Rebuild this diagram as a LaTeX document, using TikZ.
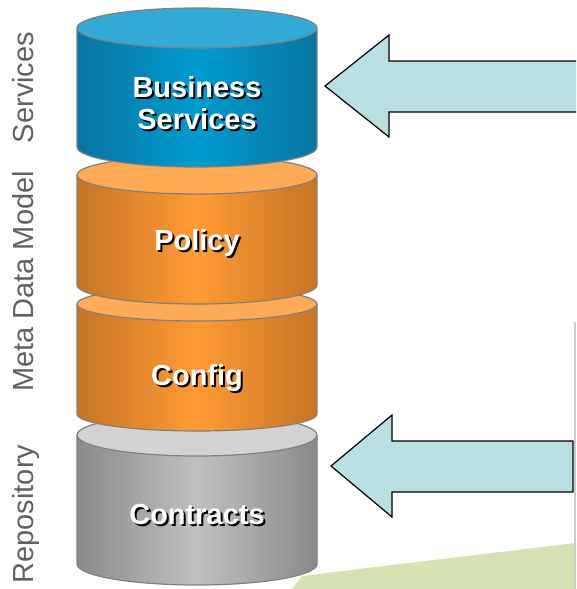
\documentclass[tikz,border=0pt]{standalone}
\usepackage{fontspec}
\setmainfont{Liberation Sans}
\usetikzlibrary{positioning}

\definecolor{bluedark}{RGB}{8,116,160}
\definecolor{bluelight}{RGB}{0,155,207}
\definecolor{bluetop}{RGB}{51,170,213}
\definecolor{orangedark}{RGB}{198,116,38}
\definecolor{orangelight}{RGB}{255,155,51}
\definecolor{orangetop}{RGB}{255,170,85}
\definecolor{graydark}{RGB}{138,138,138}
\definecolor{graylight}{RGB}{192,192,192}
\definecolor{graytop}{RGB}{211,211,211}
\definecolor{arrowfill}{RGB}{184,224,227}
\definecolor{meadow}{RGB}{213,227,178}

\tikzset{
    layer outline/.style = {draw=black!50!white, line width=1.2pt},
    layer text/.style = {
      font=\fontsize{29}{32}\selectfont\bfseries, text=white, align=center,
      inner sep=0,
    },
    layer shadow/.style = {layer text, text=black},
    side label/.style = {
      font=\fontsize{29}{32}\selectfont, text=black!62!white, rotate=90,
      anchor=base, inner sep=0,
    },
    block arrow/.style = {fill=arrowfill, draw=black, line width=1.2pt, line join=miter},
}
\newcommand{\drawlayer}[5]{%
  %% Draw one layer of the stack:
  %% Arguments:
  %%    1. Name prefix
  %%    2. y of the top ellipse
  %%    3. y of the bottom ellipse
  %%    4. Half height of the ellipses
  %%    5. Colour prefix
  \coordinate (#1_top) at (197, -#2);
  \coordinate (#1_bottom) at (197, -#3);
  \shade [left color=#5dark, right color=#5dark, middle color=#5light]
    (77, -#2) -- (77, -#3)
    arc [start angle=180, end angle=360, x radius=120, y radius=#4]
    -- (317, -#2) -- cycle;
  \draw [layer outline]
    (77, -#2) -- (77, -#3)
    arc [start angle=180, end angle=360, x radius=120, y radius=#4]
    -- (317, -#2);
  \filldraw [layer outline, fill=#5top]
    (#1_top) ellipse [x radius=120, y radius=#4];
}
\newcommand{\layertext}[3]{%
  %% Bold white text with a black shadow
  \node [layer shadow] (#1_shadow) at ([xshift=2pt, yshift=-2pt] #2) {#3};
  \node [layer text] (#1) at (#2) {#3};
}
\newcommand{\blockarrow}[3]{%
  %% Arguments: 1. tip, 2. head length, 3. shaft length
  \draw [block arrow] (#1) -- ++(#2, 51) -- ++(0, -26) -- ++(#3, 0)
    -- ++(0, -51) -- ++(-#3, 0) -- ++(0, -25) -- cycle;
}

\begin{document}
\begin{tikzpicture}[x=1pt, y=1pt]
    \useasboundingbox (0, 0) rectangle (576, -589);
    \clip (0, 0) rectangle (576, -589);

    %% Background: the green ground and the thin rule on the right
    \fill [meadow] (292, -589) -- (302, -576)
      .. controls (400, -564) and (500, -552) .. (576, -543) -- (576, -589) -- cycle;
    \draw [black!20!white, line width=1.5pt] (575, -322) -- (575, -589);

    %% Stack the layers from the bottom up
    \drawlayer{contracts}{435}{564}{21}{gray}
    \drawlayer{config}{304}{414}{17}{orange}
    \drawlayer{policy}{175}{285}{19}{orange}
    \drawlayer{services}{28}{147}{20}{blue}

    %% Layer names
    \layertext{services_text}{197, -103}{Business\\Services}
    \layertext{policy_text}{197, -243}{Policy}
    \layertext{config_text}{197, -378}{Config}
    \layertext{contracts_text}{197, -515}{Contracts}

    %% Labels on the left
    \node [side label] (services_label) at (33, -87.5) {Services};
    \node [side label] (model_label) at (33, -281.5) {Meta Data Model};
    \node [side label] (repository_label) at (33, -514) {Repository};

    %% Arrows pointing at the stack
    \coordinate (services_tip) at (325, -86);
    \coordinate (contracts_tip) at (331, -466);
    \blockarrow{services_tip}{64}{200}
    \blockarrow{contracts_tip}{61}{181}
\end{tikzpicture}
\end{document}
